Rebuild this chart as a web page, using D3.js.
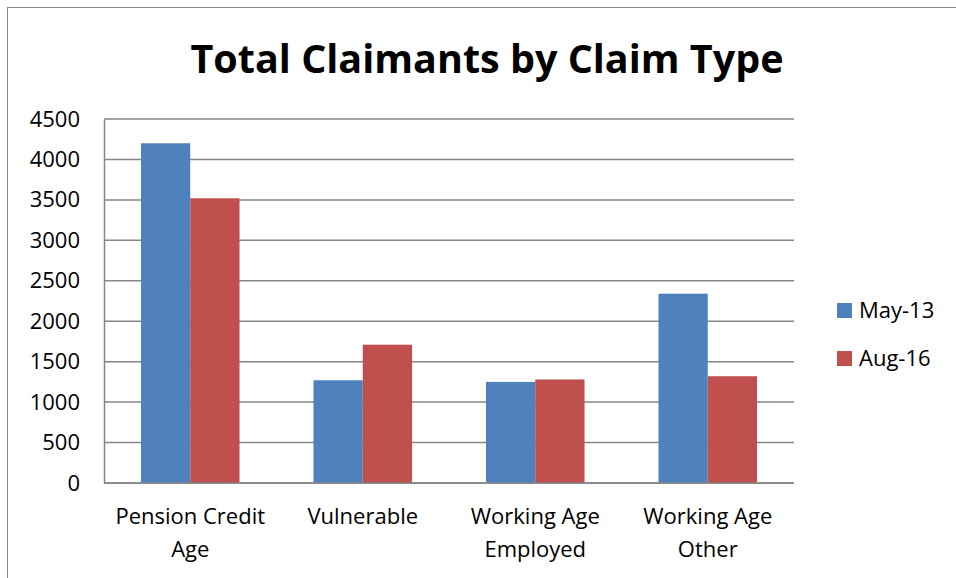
<!DOCTYPE html>
<html>
<head>
<meta charset="utf-8">
<script src="https://cdn.jsdelivr.net/npm/d3@7"></script>
<style>
  body { margin: 0; background: #fff; }
  svg { display: block; font-family: "Open Sans", sans-serif; }
</style>
</head>
<body>
<div id="chart"></div>
<script>
// chart data
var categories = [["Pension Credit", "Age"], ["Vulnerable"], ["Working Age", "Employed"], ["Working Age", "Other"]];
var seriesNames = ["May-13", "Aug-16"];
var may13 = [4200, 1270, 1250, 2340];
var aug16 = [3520, 1710, 1280, 1320];
var yTicks = [0, 500, 1000, 1500, 2000, 2500, 3000, 3500, 4000, 4500];
var colors = ["#4F81BD", "#C0504D"];

var w = 956, h = 578;
var plotLeft = 104, plotRight = 794, plotTop = 119, plotBottom = 483;

var svg = d3.select("#chart").append("svg")
  .attr("width", w)
  .attr("height", h);

// outer chart border
svg.append("rect")
  .attr("x", 7.5).attr("y", 7.5)
  .attr("width", w + 10).attr("height", h + 10)
  .attr("fill", "none")
  .attr("stroke", "#868686")
  .attr("stroke-width", 1);

// title
svg.append("text")
  .attr("x", 487).attr("y", 73)
  .attr("text-anchor", "middle")
  .attr("font-weight", "bold")
  .attr("font-size", 39.5)
  .attr("fill", "#000")
  .text("Total Claimants by Claim Type");

var keys = categories.map(function(d) { return d.join(" "); });

var x = d3.scaleBand().domain(keys).range([plotLeft, plotRight]).paddingInner(0).paddingOuter(0);
var y = d3.scaleLinear().domain([0, 4500]).range([plotBottom, plotTop]);

// gridlines
svg.append("g")
  .selectAll("line")
  .data(yTicks)
  .enter()
  .append("line")
  .attr("x1", plotLeft).attr("x2", plotRight)
  .attr("y1", function(d) { return y(d); })
  .attr("y2", function(d) { return y(d); })
  .attr("stroke", "#868686")
  .attr("stroke-width", 1.5);

// y axis
var yAxis = svg.append("g")
  .attr("transform", "translate(" + plotLeft + ",0)")
  .call(d3.axisLeft(y).tickValues(yTicks).tickSize(0).tickPadding(24).tickFormat(d3.format("d")));
yAxis.select(".domain").attr("stroke", "#868686").attr("stroke-width", 1.5);
yAxis.selectAll("text")
  .attr("font-size", 22)
  .attr("fill", "#000")
  .attr("font-family", "Open Sans");

// bars, gap width 150%
var barW = x.bandwidth() / 3.5;
var groups = [may13, aug16];
groups.forEach(function(vals, s) {
  svg.append("g")
    .selectAll("rect")
    .data(vals)
    .enter()
    .append("rect")
    .attr("x", function(d, i) { return x(keys[i]) + barW * 0.75 + s * barW; })
    .attr("width", barW)
    .attr("y", function(d) { return y(d); })
    .attr("height", function(d) { return y(0) - y(d); })
    .attr("fill", colors[s]);
});

// x axis line
svg.append("line")
  .attr("x1", plotLeft).attr("x2", plotRight)
  .attr("y1", plotBottom).attr("y2", plotBottom)
  .attr("stroke", "#868686")
  .attr("stroke-width", 1.5);

// category labels (two lines)
var labels = svg.append("g")
  .selectAll("text")
  .data(categories)
  .enter()
  .append("text")
  .attr("text-anchor", "middle")
  .attr("font-size", 22)
  .attr("fill", "#000");
labels.each(function(d, i) {
  var t = d3.select(this);
  d.forEach(function(line, j) {
    t.append("tspan")
      .attr("x", x(keys[i]) + x.bandwidth() / 2)
      .attr("y", 524 + j * 33)
      .text(line);
  });
});

// legend
var legend = svg.append("g");
seriesNames.forEach(function(name, i) {
  legend.append("rect")
    .attr("x", 837).attr("y", 303 + i * 48)
    .attr("width", 15).attr("height", 15)
    .attr("fill", colors[i]);
  legend.append("text")
    .attr("x", 859).attr("y", 318 + i * 48)
    .attr("font-size", 22)
    .attr("fill", "#000")
    .text(name);
});
</script>
</body>
</html>
